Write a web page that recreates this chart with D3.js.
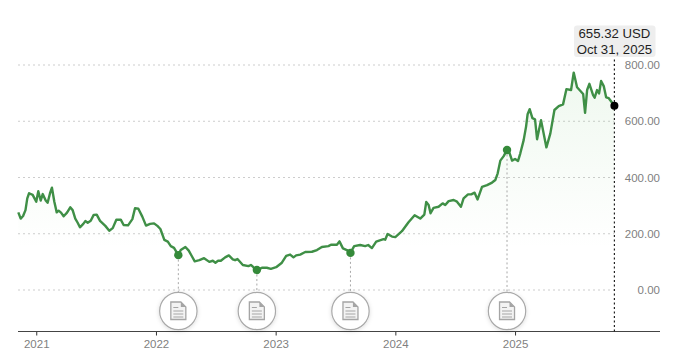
<!DOCTYPE html>
<html><head><meta charset="utf-8">
<script src="https://cdn.jsdelivr.net/npm/d3@7"></script>
<style>html,body{margin:0;padding:0;background:#fff}svg{display:block}text{font-family:"Liberation Sans",Arial,sans-serif}</style>
</head><body><div id="chart"></div>
<script>
const years=[2020.85,2020.87,2020.89,2020.91,2020.925,2020.94,2020.97,2020.98,2021.0,2021.017,2021.037,2021.054,2021.079,2021.095,2021.115,2021.131,2021.151,2021.171,2021.187,2021.207,2021.229,2021.257,2021.284,2021.304,2021.326,2021.346,2021.365,2021.393,2021.41,2021.43,2021.455,2021.48,2021.505,2021.533,2021.577,2021.61,2021.639,2021.669,2021.706,2021.73,2021.767,2021.803,2021.825,2021.853,2021.886,2021.917,2021.951,2021.984,2022.012,2022.037,2022.07,2022.099,2022.124,2022.151,2022.187,2022.207,2022.246,2022.274,2022.299,2022.324,2022.363,2022.402,2022.446,2022.475,2022.497,2022.519,2022.542,2022.578,2022.609,2022.642,2022.661,2022.681,2022.726,2022.773,2022.793,2022.814,2022.843,2022.885,2022.926,2022.96,2023.004,2023.052,2023.088,2023.121,2023.149,2023.171,2023.205,2023.247,2023.303,2023.345,2023.386,2023.441,2023.462,2023.512,2023.533,2023.562,2023.595,2023.625,2023.656,2023.706,2023.748,2023.773,2023.804,2023.84,2023.901,2023.915,2023.935,2023.972,2024.0,2024.055,2024.11,2024.161,2024.208,2024.242,2024.258,2024.278,2024.294,2024.319,2024.361,2024.395,2024.417,2024.445,2024.487,2024.515,2024.548,2024.57,2024.607,2024.634,2024.662,2024.687,2024.724,2024.766,2024.808,2024.835,2024.855,2024.877,2024.905,2024.933,2024.955,2024.975,2025.0,2025.025,2025.044,2025.072,2025.092,2025.105,2025.122,2025.145,2025.167,2025.184,2025.217,2025.262,2025.295,2025.329,2025.365,2025.401,2025.429,2025.468,2025.49,2025.518,2025.569,2025.585,2025.602,2025.621,2025.652,2025.665,2025.685,2025.702,2025.719,2025.741,2025.761,2025.783,2025.83];
const prices=[276,254,263,284,326,344,338,330,314,351,318,341,318,310,344,364,314,276,282,275,262,275,294,284,254,239,223,235,245,239,246,267,268,246,228,211,220,250,250,231,230,252,291,289,261,229,235,237,228,217,178,172,156,150,124,142,153,140,121,102,106,113,100,104,97,104,104,116,123,109,106,110,89,85,89,81,71,79,79,75,81,97,121,126,116,123,126,135,136,142,153,156,161,161,173,148,142,132,156,160,156,160,149,172,181,179,199,190,188,209,241,266,254,268,313,302,273,292,296,308,302,316,320,314,296,326,340,340,346,322,367,373,382,391,415,460,476,498,486,460,466,459,486,533,581,625,643,611,607,536,604,507,557,640,654,660,714,711,773,721,697,630,711,733,693,684,711,699,743,725,685,682,655.32];
const eventYears=[2022.187,2022.843,2023.625,2024.933];
const eventValues=[124,71,132,498];
const yTicks=[0,200,400,600,800];
const xTicks=[2021,2022,2023,2024,2025];
const lastLabel=["655.32 USD","Oct 31, 2025"];

const W=680,H=360,axisY=331.5,iconY=311,right=660;
const x=d3.scaleLinear().domain([2020.85,2025.83]).range([18.3,614.4]);
const y=d3.scaleLinear().domain([0,800]).range([290,65]);
const svg=d3.select("#chart").append("svg").attr("width",W).attr("height",H);
const defs=svg.append("defs");
const grad=defs.append("linearGradient").attr("id","fade").attr("gradientUnits","userSpaceOnUse")
  .attr("x1",0).attr("x2",0).attr("y1",y(780)).attr("y2",y(150));
grad.append("stop").attr("offset",0).attr("stop-color","#6cc06c").attr("stop-opacity",.11);
grad.append("stop").attr("offset",1).attr("stop-color","#6cc06c").attr("stop-opacity",0);
const sh=defs.append("filter").attr("id","sh").attr("x","-30%").attr("y","-30%").attr("width","160%").attr("height","160%");
sh.append("feDropShadow").attr("dx",0).attr("dy",1).attr("stdDeviation",2).attr("flood-color","#000").attr("flood-opacity",.14);

// grid
svg.append("g").selectAll("line").data(yTicks).join("line")
  .attr("x1",18).attr("x2",x(2025.83)).attr("y1",d=>y(d)).attr("y2",d=>y(d))
  .attr("stroke","#cdcdcd").attr("stroke-width",1).attr("stroke-dasharray","2 3");

// y labels
const yAxis=d3.axisRight(y).tickValues(yTicks).tickFormat(d3.format(".2f")).tickSize(0).tickPadding(0);
const gy=svg.append("g").attr("transform",`translate(${right},0)`).call(yAxis);
gy.select(".domain").remove();
gy.selectAll("text").attr("text-anchor","end").attr("fill","#7f7f7f").style("font-size","11.5px");

// area + line
const pts=years.map((d,i)=>[d,prices[i]]);
svg.append("path").datum(pts).attr("fill","url(#fade)")
  .attr("d",d3.area().x(d=>x(d[0])).y0(y(0)).y1(d=>y(d[1])));

// event stems
svg.append("g").selectAll("line").data(eventYears).join("line")
  .attr("x1",d=>x(d)).attr("x2",d=>x(d)).attr("y1",(d,i)=>y(eventValues[i])).attr("y2",iconY)
  .attr("stroke","#a8a8a8").attr("stroke-width",1).attr("stroke-dasharray","2 2.5");

svg.append("path").datum(pts).attr("fill","none").attr("stroke","#3f8f46").attr("stroke-width",2.4)
  .attr("stroke-linejoin","round")
  .attr("d",d3.line().x(d=>x(d[0])).y(d=>y(d[1])));

svg.append("g").selectAll("circle").data(eventYears).join("circle")
  .attr("cx",d=>x(d)).attr("cy",(d,i)=>y(eventValues[i])).attr("r",4.2).attr("fill","#358a3a");

// axis
const xAxis=d3.axisBottom(x).tickValues(xTicks).tickFormat(d3.format("d")).tickSize(4).tickPadding(4);
const gx=svg.append("g").attr("transform",`translate(0,${axisY})`).call(xAxis);
gx.select(".domain").remove();
gx.selectAll("line").attr("stroke","#333");
gx.selectAll("text").attr("fill","#7f7f7f").style("font-size","11.5px");
svg.append("line").attr("x1",18).attr("x2",right).attr("y1",axisY).attr("y2",axisY).attr("stroke","#444").attr("stroke-width",1.2);

// icons
const icon=svg.append("g").selectAll("g").data(eventYears).join("g").attr("transform",d=>`translate(${x(d)},${iconY})`);
icon.append("circle").attr("r",18.7).attr("fill","#fff").attr("stroke","#a9a9a9").attr("stroke-width",1.2).attr("filter","url(#sh)");
icon.append("path").attr("d","M-7.5,-9 H2.5 L7.5,-4 V8.5 H-7.5 Z").attr("fill","#f3f3f3").attr("stroke","#a5a5a5").attr("stroke-width",1.3);
icon.append("path").attr("d","M2.5,-9 L7.5,-4 H2.5 Z").attr("fill","#a5a5a5");
icon.append("path").attr("d","M-5,-3.5 H0 M-5,0 H5 M-5,3 H5 M-5,6 H5").attr("stroke","#a5a5a5").attr("stroke-width",1).attr("fill","none");

// crosshair + end
const lastX=x(years[years.length-1]),lastY=y(prices[prices.length-1]);
svg.append("line").attr("x1",lastX).attr("x2",lastX).attr("y1",55).attr("y2",axisY)
  .attr("stroke","#222").attr("stroke-width",1.2).attr("stroke-dasharray","2 2.5");
svg.append("circle").attr("cx",lastX).attr("cy",lastY).attr("r",4).attr("fill","#000");

// label
svg.append("rect").attr("x",574).attr("y",25.5).attr("width",81.5).attr("height",31.5).attr("rx",3).attr("fill","#eeeeee");
svg.append("g").selectAll("text").data(lastLabel).join("text")
  .attr("x",lastX).attr("y",(d,i)=>38+i*15.5).attr("text-anchor","middle")
  .attr("fill","#1f1f1f").style("font-size","13.2px").text(d=>d);
</script></body></html>
